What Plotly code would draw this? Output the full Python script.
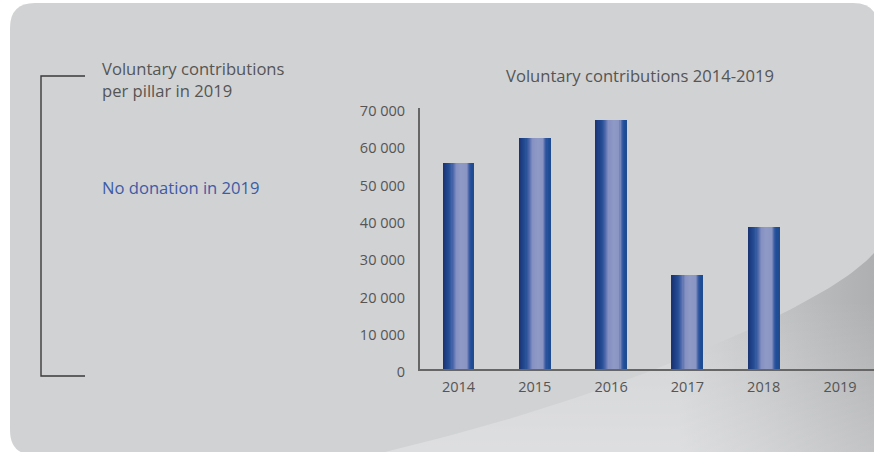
import plotly.graph_objects as go

# ---------------- data ----------------
years = ["2014", "2015", "2016", "2017", "2018", "2019"]
contributions = [55300, 62000, 66900, 25200, 38200, 0]
y_tickvals = [0, 10000, 20000, 30000, 40000, 50000, 60000, 70000]
y_ticktext = ["0", "10 000", "20 000", "30 000", "40 000", "50 000", "60 000", "70 000"]

chart_title = "Voluntary contributions 2014-2019"
left_title_1 = "Voluntary contributions"
left_title_2 = "per pillar in 2019"
left_note = "No donation in 2019"

# ---------------- styling ----------------
W, H = 874, 452
FONT = "Open Sans"
TEXT_GREY = "#555555"
PANEL = "#d1d2d4"
TXT_SIZE = 16.6

# bar gradient (horizontal, left -> right)
bar_stops = [
    (0.00, (26, 51, 112)),
    (0.10, (31, 63, 133)),
    (0.22, (36, 79, 151)),
    (0.32, (74, 102, 168)),
    (0.44, (133, 145, 194)),
    (0.60, (144, 154, 198)),
    (0.78, (138, 149, 195)),
    (0.86, (62, 94, 165)),
    (0.93, (31, 78, 151)),
    (1.00, (31, 74, 146)),
]


def interp_color(stops, t):
    for (t0, c0), (t1, c1) in zip(stops[:-1], stops[1:]):
        if t0 <= t <= t1:
            f = 0 if t1 == t0 else (t - t0) / (t1 - t0)
            c = [round(a + (b - a) * f) for a, b in zip(c0, c1)]
            return "rgb({},{},{})".format(*c)
    c = stops[-1][1]
    return "rgb({},{},{})".format(*c)


fig = go.Figure()

# ---------- background decoration (pixel space on x/y) ----------
def quad(p0, p1, p2, n=30):
    pts = []
    for i in range(n + 1):
        t = i / n
        x = (1 - t) ** 2 * p0[0] + 2 * (1 - t) * t * p1[0] + t ** 2 * p2[0]
        y = (1 - t) ** 2 * p0[1] + 2 * (1 - t) * t * p1[1] + t ** 2 * p2[1]
        pts.append((x, y))
    return pts

curve = quad((385, 452), (560, 410), (700, 351)) + quad((700, 351), (840, 292), (874, 253))[1:]
curve = curve + [(910, 230)]
poly = curve + [(910, 470), (385, 470), (385, 452)]
px = [p[0] for p in poly]
py = [p[1] for p in poly]

fig.add_trace(go.Scatter(
    x=px, y=py, xaxis="x", yaxis="y", mode="lines", fill="toself",
    line=dict(width=0, color="rgba(0,0,0,0)"),
    fillgradient=dict(type="horizontal", start=385, stop=874,
                      colorscale=[[0.0, "rgb(210,211,213)"],
                                  [0.60, "rgb(210,211,213)"],
                                  [0.76, "rgb(197,198,200)"],
                                  [1.0, "rgb(174,175,177)"]]),
    hoverinfo="skip", showlegend=False))
fig.add_trace(go.Scatter(
    x=px, y=py, xaxis="x", yaxis="y", mode="lines", fill="toself",
    line=dict(width=0, color="rgba(0,0,0,0)"),
    fillgradient=dict(type="vertical", start=300, stop=452,
                      colorscale=[[0.0, "rgba(255,255,255,0)"],
                                  [1.0, "rgba(255,255,255,0.26)"]]),
    hoverinfo="skip", showlegend=False))

# ---------- bars as gradient strips ----------
bar_w = 0.406
N = 28
strip = bar_w / N
for i in range(N):
    t = (i + 0.5) / N
    fig.add_trace(go.Bar(
        x=years, y=contributions, xaxis="x2", yaxis="y2",
        width=strip * 1.6 if i < N - 1 else strip,
        offset=-bar_w / 2 + i * strip,
        marker=dict(color=interp_color(bar_stops, t), line=dict(width=0)),
        hoverinfo="skip" if i else "x+y", showlegend=False))

# panel with rounded corners (pixel coords)
r = 25
x0, x1, y0, y1 = 10, 878, 3, 455
panel_path = (f"M {x0+r},{y0} L {x1-r},{y0} Q {x1},{y0} {x1},{y0+r} "
              f"L {x1},{y1-r} Q {x1},{y1} {x1-r},{y1} L {x0+r},{y1} "
              f"Q {x0},{y1} {x0},{y1-r} L {x0},{y0+r} Q {x0},{y0} {x0+r},{y0} Z")

shapes = [
    dict(type="path", path=panel_path, xref="x", yref="y", layer="below",
         fillcolor=PANEL, line=dict(width=0)),
    dict(type="path", path="M 85,76 L 41,76 L 41,376 L 85,376", xref="x", yref="y",
         line=dict(color="#3a3a3a", width=1.4), layer="above"),
]

annotations = [
    dict(text=left_title_1, x=100, y=68, xref="x", yref="y", xanchor="left",
         yanchor="middle", showarrow=False, font=dict(family=FONT, size=TXT_SIZE, color=TEXT_GREY)),
    dict(text=left_title_2, x=100, y=90, xref="x", yref="y", xanchor="left",
         yanchor="middle", showarrow=False, font=dict(family=FONT, size=TXT_SIZE, color=TEXT_GREY)),
    dict(text=left_note, x=100, y=187, xref="x", yref="y", xanchor="left",
         yanchor="middle", showarrow=False, font=dict(family=FONT, size=TXT_SIZE, color="#3d5ba6")),
    dict(text=chart_title, x=640, y=75, xref="x", yref="y", xanchor="center",
         yanchor="middle", showarrow=False, font=dict(family=FONT, size=TXT_SIZE, color=TEXT_GREY)),
]

y_bottom, y_top = 369, 108
fig.update_layout(
    width=W, height=H,
    margin=dict(l=0, r=0, t=0, b=0, pad=0),
    paper_bgcolor="white",
    plot_bgcolor="rgba(0,0,0,0)",
    barmode="overlay",
    bargap=0,
    showlegend=False,
    shapes=shapes,
    annotations=annotations,
    xaxis=dict(domain=[0, 1], range=[0, W], visible=False, fixedrange=True, automargin=False),
    yaxis=dict(domain=[0, 1], range=[H, 0], visible=False, fixedrange=True, automargin=False),
    xaxis2=dict(domain=[420 / W, 1], anchor="y2", type="category", automargin=False,
                range=[-0.505, 5.446], showline=True, linecolor="#666666", linewidth=2,
                showgrid=False, zeroline=False, ticks="", ticklabelstandoff=4,
                tickfont=dict(family=FONT, size=14.5, color=TEXT_GREY)),
    yaxis2=dict(domain=[(H - y_bottom) / H, (H - y_top) / H], anchor="x2", automargin=False,
                range=[0, 70000], showline=True, linecolor="#666666", linewidth=2,
                showgrid=False, zeroline=False, ticks="",
                tickvals=y_tickvals, ticktext=y_ticktext, ticklabelstandoff=10,
                ticklabelshift=3,
                tickfont=dict(family=FONT, size=14.5, color=TEXT_GREY)),
)

fig.write_html("out.html", config={"displayModeBar": False},
               post_script="document.body.style.margin='0';document.body.style.padding='0';")
